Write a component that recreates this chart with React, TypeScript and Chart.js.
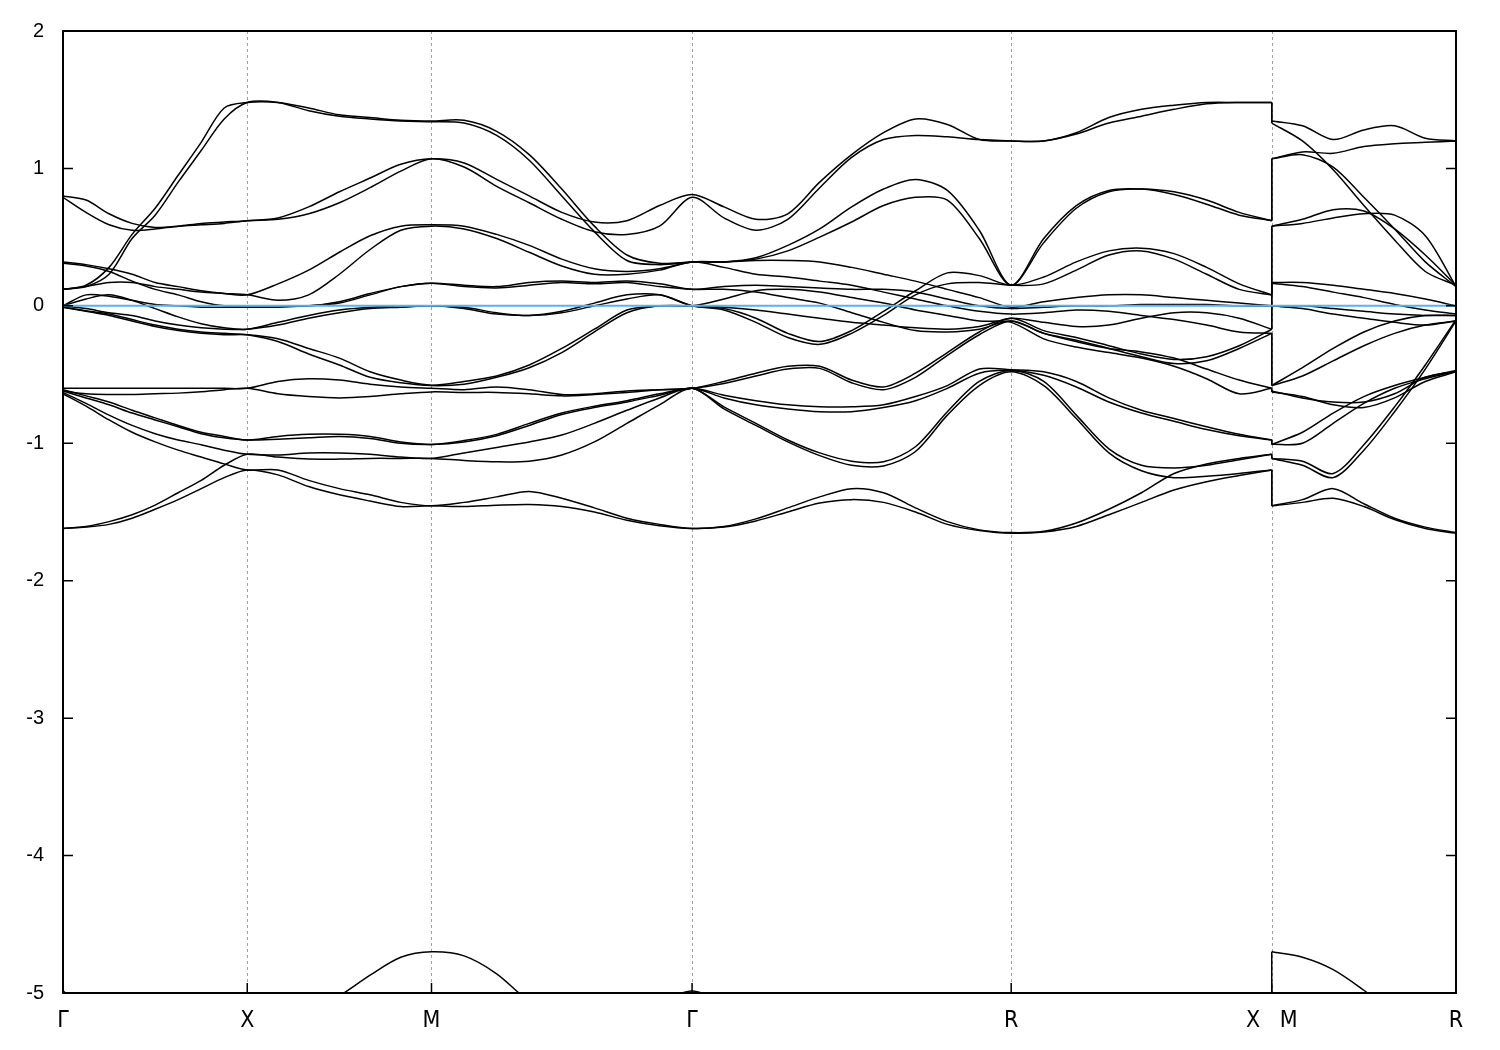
import { useEffect, useRef } from 'react';
import { Chart, registerables } from 'chart.js';

Chart.register(...registerables);

// High-symmetry path of the simple-cubic Brillouin zone: Γ-X-M-Γ-R-X | M-R
const POINT_LABELS = ['Γ', 'X', 'M', 'Γ', 'R', 'X   M', 'R'];
const SEGMENT_LENGTHS = [0.5, 0.5, Math.SQRT1_2, Math.sqrt(3) / 2, Math.SQRT1_2, 0.5];
const SEGMENT_STEPS = [8, 6, 8, 10, 8, 6];
const Y_TICKS = [-5, -4, -3, -2, -1, 0, 1, 2];
const FERMI_LEVEL = 0;

// Energies (eV) per band, sampled along the path; segments: Γ-X | X-M | M-Γ | Γ-R | R-X | M-R (starts at M)
const BAND_01 = [
  0.12, 0.15, 0.28, 0.52, 0.71, 0.95, 1.19, 1.44, 1.48,
  1.48, 1.44, 1.39, 1.37, 1.35, 1.345,
  1.35, 1.27, 1.10, 0.85, 0.58, 0.37, 0.31, 0.32,
  0.32, 0.35, 0.44, 0.56, 0.72, 0.85, 0.92, 0.84, 0.55, 0.15,
  0.49, 0.73, 0.84, 0.85, 0.83, 0.77, 0.68, 0.62,
  1.07, 1.12, 1.11, 1.16, 1.18, 1.19, 1.20,
];
const BAND_02 = [
  0.12, 0.14, 0.23, 0.49, 0.66, 0.90, 1.13, 1.36, 1.48,
  1.48, 1.42, 1.38, 1.36, 1.345, 1.34,
  1.33, 1.24, 1.06, 0.80, 0.54, 0.33, 0.30, 0.32,
  0.32, 0.34, 0.40, 0.50, 0.61, 0.73, 0.79, 0.77, 0.49, 0.15,
  0.46, 0.71, 0.83, 0.85, 0.81, 0.74, 0.66, 0.62,
  1.07, 1.10, 1.01, 0.79, 0.56, 0.32, 0.14,
];
const BAND_03 = [
  0.80, 0.77, 0.67, 0.60, 0.57, 0.58, 0.60, 0.61, 0.62,
  0.64, 0.72, 0.83, 0.93, 1.03, 1.07,
  1.04, 0.92, 0.80, 0.68, 0.61, 0.62, 0.73, 0.81,
  0.72, 0.63, 0.67, 0.90, 1.10, 1.26, 1.36, 1.32, 1.21, 1.20,
  1.20, 1.26, 1.37, 1.43, 1.46, 1.48, 1.48, 1.48,
  1.345, 1.31, 1.21, 1.28, 1.31, 1.22, 1.20,
];
const BAND_04 = [
  0.79, 0.68, 0.59, 0.55, 0.56, 0.58, 0.59, 0.60, 0.62,
  0.63, 0.67, 0.75, 0.86, 0.98, 1.07,
  1.01, 0.87, 0.75, 0.63, 0.54, 0.52, 0.58, 0.79,
  0.64, 0.55, 0.63, 0.86, 1.08, 1.21, 1.24, 1.23, 1.21, 1.20,
  1.20, 1.25, 1.33, 1.38, 1.43, 1.47, 1.48, 1.48,
  1.33, 1.20, 0.99, 0.73, 0.48, 0.25, 0.15,
];
const BAND_05 = [
  0.32, 0.30, 0.27, 0.23, 0.17, 0.14, 0.11, 0.09, 0.08,
  0.16, 0.26, 0.39, 0.51, 0.58, 0.59,
  0.58, 0.52, 0.44, 0.34, 0.27, 0.25, 0.27, 0.32,
  0.32, 0.33, 0.33, 0.32, 0.28, 0.23, 0.18, 0.12, 0.06, -0.01,
  0.03, 0.06, 0.08, 0.08, 0.06, 0.04, 0.02, 0.0,
  0.17, 0.17, 0.15, 0.12, 0.09, 0.05, 0.0,
];
const BAND_06 = [
  0.12, 0.14, 0.17, 0.17, 0.14, 0.12, 0.10, 0.09, 0.08,
  0.04, 0.08, 0.23, 0.41, 0.55, 0.58,
  0.56, 0.49, 0.39, 0.29, 0.23, 0.23, 0.26, 0.32,
  0.28, 0.23, 0.21, 0.18, 0.15, 0.10, 0.05, 0.0, -0.04, -0.06,
  -0.05, -0.03, -0.04, -0.07, -0.10, -0.14, -0.19, -0.20,
  -0.58, -0.45, -0.31, -0.19, -0.11, -0.07, -0.07,
];
const BAND_07 = [
  0.31, 0.29, 0.25, 0.18, 0.12, 0.08, 0.03, 0.0, 0.0,
  0.0, 0.0, 0.03, 0.09, 0.14, 0.165,
  0.15, 0.14, 0.17, 0.18, 0.17, 0.18, 0.16, 0.12,
  0.14, 0.15, 0.14, 0.13, 0.12, 0.12, 0.10, 0.05, 0.0, -0.02,
  -0.01, 0.0, 0.0, 0.01, 0.01, 0.01, 0.0, 0.0,
  0.165, 0.14, 0.10, 0.06, 0.01, -0.03, -0.06,
];
const BAND_08 = [
  0.0, 0.08, 0.07, 0.04, 0.01, 0.0, -0.01, -0.01, -0.01,
  -0.01, 0.0, 0.02, 0.08, 0.14, 0.165,
  0.14, 0.13, 0.15, 0.17, 0.16, 0.17, 0.14, 0.12,
  0.12, 0.10, 0.06, 0.02, -0.05, -0.12, -0.18, -0.19, -0.17, -0.11,
  -0.20, -0.25, -0.31, -0.37, -0.42, -0.40, -0.31, -0.20,
  -0.58, -0.51, -0.40, -0.29, -0.20, -0.14, -0.11,
];
const BAND_09 = [
  0.0, 0.05, 0.08, 0.04, -0.02, -0.08, -0.13, -0.16, -0.17,
  -0.12, -0.07, -0.03, -0.01, 0.0, 0.0,
  -0.01, -0.05, -0.07, -0.04, 0.02, 0.08, 0.08, 0.0,
  -0.02, -0.09, -0.20, -0.26, -0.18, -0.04, 0.11, 0.24, 0.22, 0.15,
  0.21, 0.32, 0.40, 0.42, 0.38, 0.28, 0.16, 0.08,
  0.58, 0.63, 0.70, 0.69, 0.56, 0.37, 0.15,
];
const BAND_10 = [
  0.0, -0.02, -0.05, -0.07, -0.11, -0.14, -0.16, -0.17, -0.17,
  -0.14, -0.09, -0.05, -0.02, -0.01, 0.0,
  -0.02, -0.06, -0.07, -0.05, 0.0, 0.05, 0.08, 0.0,
  -0.03, -0.12, -0.23, -0.28, -0.20, -0.07, 0.08, 0.16, 0.17, 0.15,
  0.16, 0.26, 0.37, 0.40, 0.34, 0.23, 0.12, 0.08,
  0.58, 0.60, 0.64, 0.67, 0.66, 0.51, 0.14,
];
const BAND_11 = [
  -0.01, -0.04, -0.07, -0.11, -0.15, -0.18, -0.20, -0.21, -0.21,
  -0.24, -0.31, -0.38, -0.48, -0.54, -0.577,
  -0.55, -0.51, -0.43, -0.31, -0.17, -0.03, 0.0, 0.0,
  0.05, 0.11, 0.12, 0.10, 0.06, 0.02, -0.03, -0.07, -0.11, -0.12,
  -0.24, -0.30, -0.34, -0.38, -0.44, -0.53, -0.64, -0.60,
  -0.626, -0.66, -0.72, -0.74, -0.67, -0.55, -0.48,
];
const BAND_12 = [
  -0.01, -0.035, -0.06, -0.10, -0.14, -0.17, -0.19, -0.20, -0.21,
  -0.26, -0.35, -0.43, -0.52, -0.56, -0.58,
  -0.57, -0.52, -0.45, -0.34, -0.19, -0.05, 0.0, 0.0,
  -0.01, -0.03, -0.06, -0.09, -0.12, -0.14, -0.16, -0.17, -0.15, -0.09,
  -0.12, -0.15, -0.14, -0.09, -0.05, -0.05, -0.09, -0.17,
  0.0, -0.02, -0.06, -0.09, -0.12, -0.14, -0.11,
];
const BAND_13 = [
  -0.60, -0.60, -0.60, -0.60, -0.60, -0.60, -0.60, -0.60, -0.60,
  -0.55, -0.53, -0.54, -0.57, -0.59, -0.60,
  -0.61, -0.59, -0.61, -0.645, -0.64, -0.62, -0.61, -0.60,
  -0.55, -0.49, -0.44, -0.44, -0.54, -0.59, -0.49, -0.34, -0.19, -0.09,
  -0.18, -0.23, -0.29, -0.35, -0.39, -0.37, -0.29, -0.17,
  0.0, 0.0, -0.02, -0.04, -0.06, -0.07, -0.07,
];
const BAND_14 = [
  -0.62, -0.64, -0.645, -0.645, -0.64, -0.635, -0.625, -0.61, -0.60,
  -0.64, -0.66, -0.67, -0.66, -0.64, -0.626,
  -0.63, -0.63, -0.64, -0.655, -0.645, -0.63, -0.61, -0.60,
  -0.565, -0.51, -0.46, -0.455, -0.56, -0.61, -0.52, -0.36, -0.21, -0.11,
  -0.20, -0.26, -0.31, -0.335, -0.38, -0.46, -0.54, -0.60,
  -0.62, -0.67, -0.70, -0.70, -0.64, -0.52, -0.475,
];
const BAND_15 = [
  -0.61, -0.655, -0.70, -0.76, -0.815, -0.87, -0.92, -0.95, -0.976,
  -0.95, -0.935, -0.935, -0.95, -0.99, -1.008,
  -0.98, -0.935, -0.855, -0.78, -0.73, -0.69, -0.64, -0.60,
  -0.65, -0.69, -0.72, -0.735, -0.735, -0.72, -0.66, -0.58, -0.46, -0.465,
  -0.48, -0.55, -0.67, -0.76, -0.82, -0.88, -0.935, -0.976,
  -1.008, -1.0, -0.855, -0.71, -0.60, -0.53, -0.475,
];
const BAND_16 = [
  -0.62, -0.67, -0.72, -0.78, -0.83, -0.88, -0.93, -0.96, -0.976,
  -0.97, -0.96, -0.95, -0.965, -1.0, -1.008,
  -0.99, -0.945, -0.87, -0.79, -0.74, -0.70, -0.65, -0.60,
  -0.67, -0.72, -0.75, -0.77, -0.77, -0.74, -0.69, -0.60, -0.49, -0.47,
  -0.505, -0.59, -0.70, -0.78, -0.84, -0.90, -0.945, -0.976,
  -1.008, -0.92, -0.78, -0.66, -0.58, -0.52, -0.47,
];
const BAND_17 = [
  -0.63, -0.71, -0.795, -0.87, -0.93, -0.976, -1.01, -1.05, -1.08,
  -1.085, -1.07, -1.07, -1.08, -1.10, -1.11,
  -1.07, -1.03, -0.99, -0.94, -0.855, -0.76, -0.67, -0.60,
  -0.735, -0.855, -0.976, -1.07, -1.13, -1.135, -1.025, -0.77, -0.55, -0.47,
  -0.55, -0.795, -1.04, -1.16, -1.18, -1.16, -1.12, -1.08,
  -1.11, -1.13, -1.22, -1.01, -0.735, -0.43, -0.10,
];
const BAND_18 = [
  -1.62, -1.605, -1.57, -1.52, -1.45, -1.36, -1.27, -1.16, -1.08,
  -1.10, -1.115, -1.115, -1.11, -1.11, -1.11,
  -1.125, -1.135, -1.13, -1.085, -0.99, -0.855, -0.72, -0.60,
  -0.75, -0.87, -0.99, -1.09, -1.16, -1.165, -1.06, -0.795, -0.58, -0.48,
  -0.58, -0.82, -1.07, -1.20, -1.25, -1.24, -1.22, -1.194,
  -1.455, -1.41, -1.33, -1.44, -1.545, -1.61, -1.65,
];
const BAND_19 = [
  -0.64, -0.73, -0.83, -0.92, -0.99, -1.05, -1.10, -1.15, -1.194,
  -1.194, -1.27, -1.33, -1.375, -1.43, -1.455,
  -1.43, -1.39, -1.35, -1.40, -1.47, -1.545, -1.59, -1.62,
  -1.605, -1.55, -1.47, -1.39, -1.33, -1.36, -1.47, -1.57, -1.63, -1.65,
  -1.64, -1.58, -1.48, -1.36, -1.22, -1.15, -1.11, -1.08,
  -1.11, -1.16, -1.25, -1.05, -0.77, -0.46, -0.11,
];
const BAND_20 = [
  -1.62, -1.61, -1.59, -1.545, -1.48, -1.41, -1.33, -1.25, -1.194,
  -1.23, -1.315, -1.375, -1.42, -1.46, -1.455,
  -1.46, -1.45, -1.445, -1.46, -1.50, -1.56, -1.60, -1.62,
  -1.61, -1.565, -1.50, -1.435, -1.41, -1.43, -1.50, -1.59, -1.635, -1.655,
  -1.645, -1.605, -1.52, -1.43, -1.34, -1.28, -1.235, -1.194,
  -1.455, -1.43, -1.40, -1.46, -1.555, -1.62, -1.655,
];
const BAND_21 = [
  -4.985, -5.12, -5.35, -5.45, -5.5, -5.5, -5.45, -5.4, -5.35,
  -5.25, -5.12, -5.02, -4.87, -4.74, -4.70,
  -4.73, -4.86, -5.06, -5.18, -5.22, -5.18, -5.07, -4.985,
  -5.08, -5.25, -5.4, -5.5, -5.5, -5.5, -5.5, -5.5, -5.5, -5.5,
  -5.5, -5.5, -5.5, -5.5, -5.5, -5.5, -5.5, -5.5,
  -4.70, -4.74, -4.83, -4.98, -5.15, -5.3, -5.4,
];

const BANDS = [
  BAND_01, BAND_02, BAND_03, BAND_04, BAND_05, BAND_06, BAND_07,
  BAND_08, BAND_09, BAND_10, BAND_11, BAND_12, BAND_13, BAND_14,
  BAND_15, BAND_16, BAND_17, BAND_18, BAND_19, BAND_20, BAND_21,
];

function buildPath() {
  const k: number[] = [0];
  const tickK: number[] = [0];
  let pos = 0;
  let breakIndex = 0;
  SEGMENT_LENGTHS.forEach((len, s) => {
    const n = SEGMENT_STEPS[s];
    if (s === SEGMENT_LENGTHS.length - 1) {
      breakIndex = k.length;
      k.push(pos);
    }
    for (let i = 1; i <= n; i++) k.push(pos + (len * i) / n);
    pos += len;
    tickK.push(pos);
  });
  return { k, tickK, breakIndex, kMax: pos };
}

export default function App() {
  const canvasRef = useRef<HTMLCanvasElement | null>(null);

  useEffect(() => {
    const canvas = canvasRef.current;
    if (!canvas) return;
    const { k, tickK, breakIndex, kMax } = buildPath();

    const lineStyle = {
      borderColor: '#000000',
      borderWidth: 1.5,
      pointRadius: 0,
      fill: false,
      order: 1,
    };
    const datasets: any[] = [
      {
        label: 'Fermi level',
        data: [
          { x: 0, y: FERMI_LEVEL },
          { x: kMax, y: FERMI_LEVEL },
        ],
        borderColor: '#56b4e9',
        borderWidth: 2,
        pointRadius: 0,
        tension: 0,
        order: -1,
      },
    ];
    BANDS.forEach((band, b) => {
      const main = band.slice(0, breakIndex).map((e, i) => ({ x: k[i], y: e }));
      const tail = band.slice(breakIndex).map((e, i) => ({ x: k[breakIndex + i], y: e }));
      const jump = [
        { x: k[breakIndex - 1], y: band[breakIndex - 1] },
        { x: k[breakIndex], y: band[breakIndex] },
      ];
      datasets.push({ label: `band ${b + 1}`, data: main, tension: 0.3, ...lineStyle });
      datasets.push({ label: `band ${b + 1} M-R`, data: tail, tension: 0.3, ...lineStyle });
      datasets.push({ label: `band ${b + 1} jump`, data: jump, tension: 0, ...lineStyle });
    });

    const framePlugin = {
      id: 'gnuplotFrame',
      beforeDatasetsDraw(chart: any) {
        const { ctx, chartArea: a, scales } = chart;
        ctx.save();
        ctx.strokeStyle = '#a0a0a0';
        ctx.lineWidth = 1;
        ctx.setLineDash([3, 3]);
        tickK.slice(1, -1).forEach((kv) => {
          const x = Math.round(scales.x.getPixelForValue(kv)) + 0.5;
          ctx.beginPath();
          ctx.moveTo(x, a.top);
          ctx.lineTo(x, a.bottom);
          ctx.stroke();
        });
        ctx.restore();
      },
      afterDraw(chart: any) {
        const { ctx, chartArea: a, scales } = chart;
        ctx.save();
        ctx.strokeStyle = '#000000';
        ctx.lineWidth = 1.5;
        ctx.setLineDash([]);
        Y_TICKS.forEach((v) => {
          const y = scales.y.getPixelForValue(v);
          ctx.beginPath();
          ctx.moveTo(a.left, y);
          ctx.lineTo(a.left + 10, y);
          ctx.moveTo(a.right, y);
          ctx.lineTo(a.right - 10, y);
          ctx.stroke();
        });
        tickK.forEach((kv) => {
          const x = scales.x.getPixelForValue(kv);
          ctx.beginPath();
          ctx.moveTo(x, a.bottom);
          ctx.lineTo(x, a.bottom - 10);
          ctx.stroke();
        });
        ctx.lineWidth = 2;
        ctx.strokeRect(a.left, a.top, a.right - a.left, a.bottom - a.top);
        ctx.restore();
      },
    };

    const chart = new Chart(canvas, {
      type: 'line',
      data: { datasets },
      options: {
        animation: false,
        responsive: false,
        devicePixelRatio: 1,
        layout: { padding: { top: 28, right: 44, bottom: 0, left: 0 } },
        plugins: { legend: { display: false }, tooltip: { enabled: false } },
        scales: {
          x: {
            type: 'linear',
            min: 0,
            max: kMax,
            grid: { display: false, drawTicks: false },
            border: { display: false },
            afterBuildTicks: (scale: any) => {
              scale.ticks = tickK.map((v) => ({ value: v }));
            },
            afterFit: (scale: any) => {
              scale.height = 57;
            },
            ticks: {
              autoSkip: false,
              maxRotation: 0,
              minRotation: 0,
              padding: 14,
              color: '#000000',
              font: { family: '"Liberation Sans Narrow", "DejaVu Sans Condensed", "Liberation Sans", sans-serif', size: 23 },
              callback: (_v: any, i: number) => POINT_LABELS[i],
            },
          },
          y: {
            type: 'linear',
            min: -5,
            max: 2,
            grid: { display: false, drawTicks: false },
            border: { display: false },
            afterFit: (scale: any) => {
              scale.width = 63;
            },
            ticks: {
              stepSize: 1,
              padding: 19,
              color: '#000000',
              font: { family: '"Liberation Sans", Arial, sans-serif', size: 20 },
            },
          },
        },
      },
      plugins: [framePlugin],
    });

    return () => chart.destroy();
  }, []);

  return (
    <div style={{ position: 'absolute', left: 0, top: 0, width: 1500, height: 1050, background: '#ffffff' }}>
      <canvas ref={canvasRef} width={1500} height={1050} style={{ display: 'block' }} />
    </div>
  );
}
